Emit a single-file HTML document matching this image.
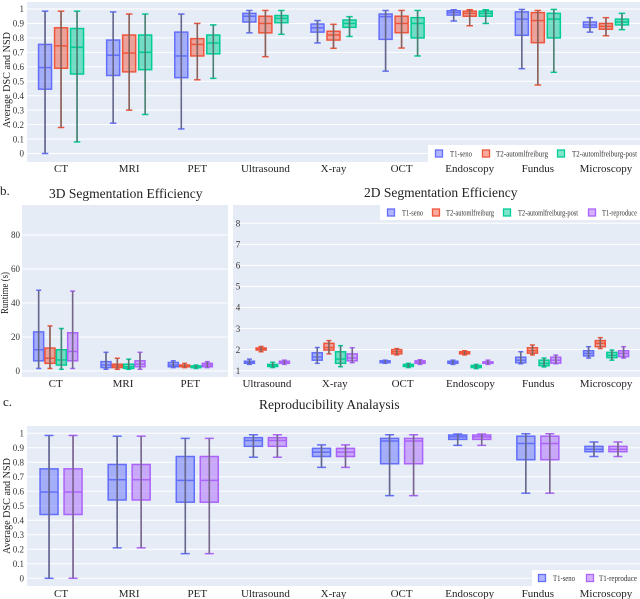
<!DOCTYPE html>
<html><head><meta charset="utf-8">
<style>
html,body{margin:0;padding:0;background:#fff;}
svg{display:block;font-family:"Liberation Serif",serif;}
</style></head>
<body>
<svg id="fig" width="640" height="599" viewBox="0 0 640 599" xmlns="http://www.w3.org/2000/svg">
  <rect x="27" y="2" width="613" height="160" fill="#e5ecf6"/>
  <rect x="22" y="205" width="206" height="172" fill="#e5ecf6"/>
  <rect x="233" y="205" width="407" height="172" fill="#e5ecf6"/>
  <rect x="27" y="426" width="613" height="160" fill="#e5ecf6"/>
  <g id="grids"></g>
  <g id="marks"></g>
  <g id="labels"></g>
  <text transform="translate(10,80) rotate(-90)" text-anchor="middle" font-size="11" textLength="96" lengthAdjust="spacingAndGlyphs" fill="#222">Average DSC and NSD</text>
  <text x="0" y="195" font-size="13" fill="#222">b.</text>
  <text x="49" y="198" font-size="13.5" fill="#222">3D Segmentation Efficiency</text>
  <text x="364" y="197" font-size="13.5" fill="#222">2D Segmentation Efficiency</text>
  <text transform="translate(8,293) rotate(-90)" text-anchor="middle" font-size="11" textLength="42" lengthAdjust="spacingAndGlyphs" fill="#222">Runtime (s)</text>
  <text x="3" y="406" font-size="13" fill="#222">c.</text>
  <text x="259" y="409" font-size="13.5" fill="#222">Reproducibility Analaysis</text>
  <text transform="translate(10,506) rotate(-90)" text-anchor="middle" font-size="11" textLength="96" lengthAdjust="spacingAndGlyphs" fill="#222">Average DSC and NSD</text>
  <g id="legends"></g>
</svg>
<script>
// ---------- data ----------
const catsAll = ["CT","MRI","PET","Ultrasound","X-ray","OCT","Endoscopy","Fundus","Microscopy"];
const cats3D = ["CT","MRI","PET"];
const cats2D = ["Ultrasound","X-ray","OCT","Endoscopy","Fundus","Microscopy"];
const ticksA = [0,0.1,0.2,0.3,0.4,0.5,0.6,0.7,0.8,0.9,1];
const tickLabelsA = ["0","0.1","0.2","0.3","0.4","0.5","0.6","0.7","0.8","0.9","1"];
const ticks3D = [0,20,40,60,80];
const ticks2D = [1,2,3,4,5,6,7,8];
// [min, q1, median, q3, max]
const aSeno = [[0,.445,.595,.755,.985],[.21,.54,.68,.785,.98],[.17,.525,.675,.84,.965],[.835,.91,.95,.97,.99],[.765,.84,.87,.896,.92],[.57,.79,.947,.965,.99],[.917,.958,.975,.988,.995],[.587,.818,.93,.98,.997],[.84,.873,.89,.91,.94]];
const aAuto = [[.18,.59,.745,.87,.985],[.30,.565,.695,.82,.965],[.51,.675,.755,.795,.90],[.67,.835,.90,.95,.99],[.728,.785,.82,.846,.894],[.73,.836,.90,.95,.99],[.884,.95,.97,.985,.995],[.474,.767,.92,.975,.99],[.815,.86,.88,.90,.94]];
const aPost = [[.08,.55,.735,.865,.985],[.27,.58,.70,.82,.965],[.52,.69,.765,.82,.89],[.825,.905,.935,.955,.99],[.81,.873,.90,.924,.947],[.675,.80,.90,.94,.99],[.90,.95,.97,.985,.995],[.562,.80,.93,.97,.997],[.857,.89,.91,.93,.97]];
const seno3D = [[1.5,6,12.5,23,47.5],[1,2,3.5,5.5,11],[2,2.5,3.5,5,6]];
const auto3D = [[1.5,4.5,7.5,13.5,26.5],[1,2,3,4,7.5],[2,2.5,3,3.5,4.5]];
const post3D = [[1,3.5,6.5,12.5,25],[1,1.5,2.5,4,7],[1.5,2,2.5,3,3.5]];
const repro3D = [[1.5,6,11.5,22.5,47],[1,2.5,4,6,11],[2,2.5,3.5,4.5,5.5]];
const seno2D = [[1.3,1.35,1.4,1.45,1.55],[1.35,1.5,1.65,1.85,2.1],[1.35,1.38,1.43,1.47,1.5],[1.3,1.35,1.4,1.45,1.5],[1.33,1.38,1.5,1.64,1.9],[1.6,1.7,1.82,1.95,2.14]];
const auto2D = [[1.9,1.98,2.03,2.08,2.15],[1.8,1.98,2.1,2.3,2.43],[1.75,1.8,1.9,2.0,2.05],[1.75,1.8,1.85,1.9,1.95],[1.75,1.83,1.95,2.09,2.22],[2.05,2.14,2.3,2.43,2.57]];
const post2D = [[1.15,1.2,1.25,1.3,1.4],[1.19,1.35,1.55,1.9,2.19],[1.15,1.2,1.25,1.3,1.35],[1.1,1.15,1.2,1.25,1.3],[1.18,1.24,1.35,1.5,1.6],[1.5,1.62,1.73,1.87,1.98]];
const repro2D = [[1.3,1.35,1.4,1.45,1.5],[1.38,1.47,1.6,1.8,2.09],[1.3,1.35,1.4,1.47,1.52],[1.3,1.35,1.38,1.42,1.5],[1.33,1.36,1.5,1.64,1.74],[1.6,1.67,1.82,1.95,2.14]];
const cSeno = [[0,.44,.595,.755,.985],[.21,.54,.68,.785,.98],[.17,.525,.675,.84,.965],[.835,.91,.95,.97,.99],[.765,.84,.87,.896,.92],[.57,.79,.947,.965,.99],[.917,.958,.975,.988,.995],[.587,.818,.93,.98,.997],[.84,.873,.89,.91,.94]];
const cRepro = [[0,.44,.595,.755,.985],[.21,.54,.68,.785,.98],[.17,.525,.675,.84,.965],[.835,.91,.95,.97,.99],[.765,.84,.87,.896,.92],[.57,.79,.947,.965,.99],[.917,.958,.975,.988,.995],[.587,.818,.93,.98,.997],[.84,.873,.89,.91,.94]];

const BLUE="#636efa", RED="#ef553b", GREEN="#00cc96", PURPLE="#ab63fa";
const NS="http://www.w3.org/2000/svg";
function mk(parent, tag, attrs){const e=document.createElementNS(NS,tag);for(const k in attrs)e.setAttribute(k,attrs[k]);parent.appendChild(e);return e;}
const grids=document.getElementById('grids'), marks=document.getElementById('marks'), labels=document.getElementById('labels'), legends=document.getElementById('legends');

function linY(v0,p0,v1,p1){return v=>p0+(v-v0)*(p1-p0)/(v1-v0);}
function band(x0,x1,n){const s=(x1-x0)/n;return i=>x0+s*(i+0.5);}
const yA=linY(0,153.5,1,9), yC=linY(0,578.3,1,433.3), y3=linY(0,371,80,235), y2=linY(1,370.7,8,223.3);
const xA=band(27,640,9), x3=band(22,224,3), x2=band(233,640,6);

function gridY(ticks,tlabels,ys,x0,x1,lx,anchor,name){
  ticks.forEach((t,i)=>{
    const y=ys(t);
    const g=mk(grids,'line',{x1:x0,x2:x1,y1:y,y2:y,stroke:'#fff','stroke-width':1});
    
    
    const tx=mk(labels,'text',{x:lx,y:y+3.2,'font-size':9,fill:'#333','text-anchor':anchor});
    
    
    tx.textContent=tlabels?tlabels[i]:String(t);
  });
}
gridY(ticksA,tickLabelsA,yA,27,640,24,'end','panel-a-y');
gridY(ticksA,tickLabelsA,yC,27,640,24,'end','panel-c-y');
gridY(ticks3D,null,y3,22,228,20,'end','panel-b-3d-y');
gridY(ticks2D,null,y2,233,640,238,'middle','panel-b-2d-y');

function xLabels(cats,xs,y,name){
  cats.forEach((c,i)=>{
    const t=mk(labels,'text',{x:xs(i),y:y,'font-size':11,fill:'#222','text-anchor':'middle'});
    
    
    t.textContent=c;
  });
}
xLabels(catsAll,xA,172,'panel-a');
xLabels(cats3D,x3,387,'panel-b-3d');
xLabels(cats2D,x2,387,'panel-b-2d');
xLabels(catsAll,xA,597,'panel-c');

function box(cx,w,v,ys,color,name){
  const g=mk(marks,'g',{});
  
  
  const [mn,q1,md,q3,mx]=v.map(ys);
  mk(g,'line',{x1:cx,x2:cx,y1:mn,y2:mx,stroke:color,'stroke-width':1.5});
  mk(g,'line',{x1:cx-w/4,x2:cx+w/4,y1:mn,y2:mn,stroke:color,'stroke-width':1.5});
  mk(g,'line',{x1:cx-w/4,x2:cx+w/4,y1:mx,y2:mx,stroke:color,'stroke-width':1.5});
  mk(g,'rect',{x:cx-w/2,y:q3,width:w,height:Math.max(q1-q3,1),fill:color,'fill-opacity':0.5,stroke:color,'stroke-width':1.5});
  mk(g,'line',{x1:cx-w/2,x2:cx+w/2,y1:md,y2:md,stroke:color,'stroke-width':1.5});
  mk(g,'line',{x1:cx,x2:cx,y1:mn,y2:mx,stroke:'#666','stroke-width':1.6,'stroke-opacity':0.75});
}
function series(arr,xs,off,w,ys,color,name){arr.forEach((v,i)=>box(xs(i)+off,w,v,ys,color,name+'-'+i));}
series(aSeno,xA,-16,13,yA,BLUE,'panel-a-box-t1-seno');
series(aAuto,xA,0,13,yA,RED,'panel-a-box-t2-automlfreiburg');
series(aPost,xA,16,13,yA,GREEN,'panel-a-box-t2-automlfreiburg-post');
series(seno3D,x3,-17,10,y3,BLUE,'panel-b-3d-box-t1-seno');
series(auto3D,x3,-5.7,10,y3,RED,'panel-b-3d-box-t2-automlfreiburg');
series(post3D,x3,5.7,10,y3,GREEN,'panel-b-3d-box-t2-automlfreiburg-post');
series(repro3D,x3,17,10,y3,PURPLE,'panel-b-3d-box-t1-reproduce');
series(seno2D,x2,-17.5,10,y2,BLUE,'panel-b-2d-box-t1-seno');
series(auto2D,x2,-5.8,10,y2,RED,'panel-b-2d-box-t2-automlfreiburg');
series(post2D,x2,5.8,10,y2,GREEN,'panel-b-2d-box-t2-automlfreiburg-post');
series(repro2D,x2,17.5,10,y2,PURPLE,'panel-b-2d-box-t1-reproduce');
series(cSeno,xA,-12,18,yC,BLUE,'panel-c-box-t1-seno');
series(cRepro,xA,12,18,yC,PURPLE,'panel-c-box-t1-reproduce');

// legend items: [square center x, label, color, text start x, text length]
function legend(x,y,w,h,items,name){
  const g=mk(legends,'g',{});
  
  
  mk(g,'rect',{x:x,y:y,width:w,height:h,fill:'#fff'});
  items.forEach(it=>{
    const e=mk(g,'g',{});
    
    
    mk(e,'rect',{x:it[0]-3.5,y:y+h/2-3.5,width:7,height:7,fill:it[2],'fill-opacity':0.5,stroke:it[2],'stroke-width':1.3});
    const t=mk(e,'text',{x:it[3],y:y+h/2+3,'font-size':8,fill:'#333',textLength:it[4],lengthAdjust:'spacingAndGlyphs'});
    t.textContent=it[1];
  });
}
legend(428,145,212,17,[[439,'T1-seno',BLUE,450,22],[486,'T2-automlfreiburg',RED,496,52],[561,'T2-automlfreiburg-post',GREEN,572,65]],'panel-a-legend');
legend(380,205,260,15,[[391,'T1-seno',BLUE,402,21],[436,'T2-automlfreiburg',RED,446,48],[507,'T2-automlfreiburg-post',GREEN,518,60],[592,'T1-reproduce',PURPLE,602,35]],'panel-b-legend');
legend(532,570,108,16,[[542,'T1-seno',BLUE,553,22],[590,'T1-reproduce',PURPLE,599,38]],'panel-c-legend');
</script>
</body></html>
